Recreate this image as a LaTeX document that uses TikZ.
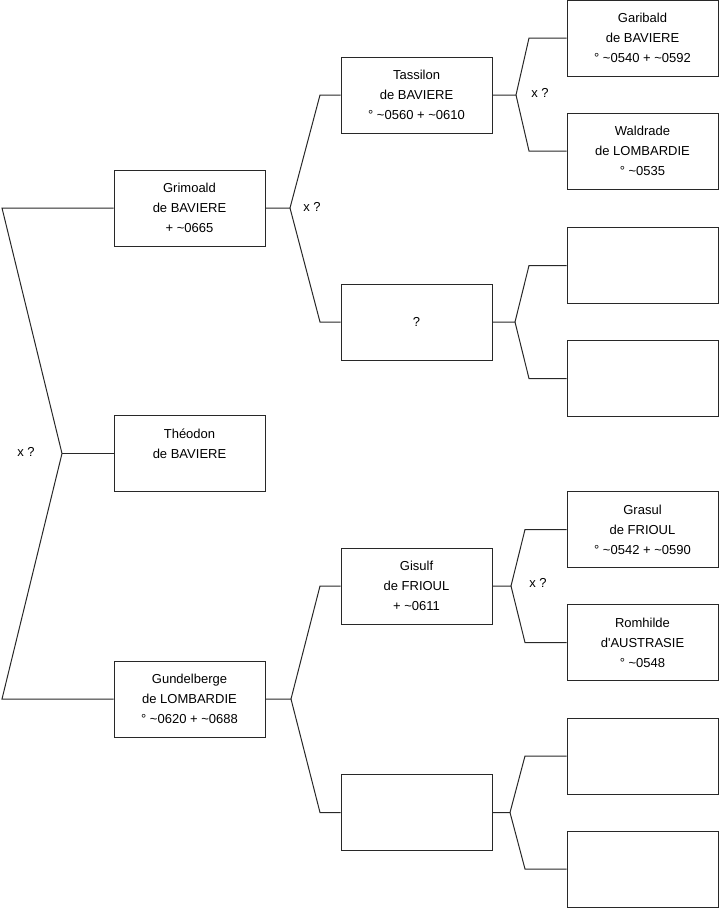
\documentclass[tikz,border=0pt]{standalone}
\usepackage{fontspec}
\setmainfont{Liberation Sans}
\usepackage{xcolor}
\usepackage{tikz}

\newcommand{\ca}{\textasciitilde}

\begin{document}
\begin{tikzpicture}[x=1pt, y=-1pt,
    persona/.style={rectangle, draw=trazo, line width=1pt, minimum width=151pt, minimum height=76pt, inner sep=0pt, align=center, font=\fontsize{13}{20}\selectfont},
    nota/.style={inner sep=0pt, font=\fontsize{13}{20}\selectfont},
    rama/.style={draw=trazo, line width=1pt}]
  \definecolor{trazo}{RGB}{40,40,40}
  \useasboundingbox (0,0) rectangle (719,908);

  % generacion 1
  \node[persona] (grimoald) at (189.5,208) {Grimoald\\de BAVIERE\\ + \ca0665};
  \node[persona] (theodon) at (189.5,453.5) {Théodon\\de BAVIERE\\[-6pt]\strut};
  \node[persona] (gundel) at (189.5,699) {Gundelberge\\de LOMBARDIE\\° \ca0620 + \ca0688};

  % generacion 2
  \node[persona] (tassilon) at (416.5,95) {Tassilon\\de BAVIERE\\° \ca0560 + \ca0610};
  \node[persona] (pregunta) at (416.5,322) {?};
  \node[persona] (gisulf) at (416.5,586) {Gisulf\\de FRIOUL\\+ \ca0611};
  \node[persona] (vacioA) at (416.5,812.5) {};

  % generacion 3
  \node[persona] (garibald) at (642.5,38) {Garibald\\de BAVIERE\\° \ca0540 + \ca0592};
  \node[persona] (waldrade) at (642.5,151) {Waldrade\\de LOMBARDIE\\° \ca0535};
  \node[persona] (vacioB) at (642.5,265.5) {};
  \node[persona] (vacioC) at (642.5,378.5) {};
  \node[persona] (grasul) at (642.5,529.5) {Grasul\\de FRIOUL\\° \ca0542 + \ca0590};
  \node[persona] (romhilde) at (642.5,642.5) {Romhilde\\d\textquotesingle AUSTRASIE\\° \ca0548};
  \node[persona] (vacioD) at (642.5,756) {};
  \node[persona] (vacioE) at (642.5,869) {};

  % bifurcaciones
  \coordinate (raizA) at (2,208);
  \coordinate (raizB) at (2,699);
  \coordinate (raiz) at (62,453.5);
  \coordinate (fGri) at (290,208);
  \coordinate (fGun) at (291,699);
  \coordinate (fTas) at (516,95);
  \coordinate (fPre) at (515,322);
  \coordinate (fGis) at (511,586);
  \coordinate (fVac) at (510,812.5);

  \draw[rama] (grimoald.west) -- (raizA) -- (raiz) -- (raizB) -- (gundel.west);
  \draw[rama] (raiz) -- (theodon.west);

  \draw[rama] (grimoald.east) -- (fGri) -- (320,95) -- (tassilon.west);
  \draw[rama] (fGri) -- (320,322) -- (pregunta.west);
  \draw[rama] (gundel.east) -- (fGun) -- (320,586) -- (gisulf.west);
  \draw[rama] (fGun) -- (320,812.5) -- (vacioA.west);

  \draw[rama] (tassilon.east) -- (fTas) -- (529,38) -- (garibald.west);
  \draw[rama] (fTas) -- (529,151) -- (waldrade.west);
  \draw[rama] (pregunta.east) -- (fPre) -- (529,265.5) -- (vacioB.west);
  \draw[rama] (fPre) -- (529,378.5) -- (vacioC.west);
  \draw[rama] (gisulf.east) -- (fGis) -- (525,529.5) -- (grasul.west);
  \draw[rama] (fGis) -- (525,642.5) -- (romhilde.west);
  \draw[rama] (vacioA.east) -- (fVac) -- (525,756) -- (vacioD.west);
  \draw[rama] (fVac) -- (525,869) -- (vacioE.west);

  % x ?
  \node[nota] (xRaiz) at (26,452) {x ?};
  \node[nota] (xGri) at (312,207) {x ?};
  \node[nota] (xTas) at (540,93) {x ?};
  \node[nota] (xGis) at (538,583) {x ?};
\end{tikzpicture}
\end{document}
